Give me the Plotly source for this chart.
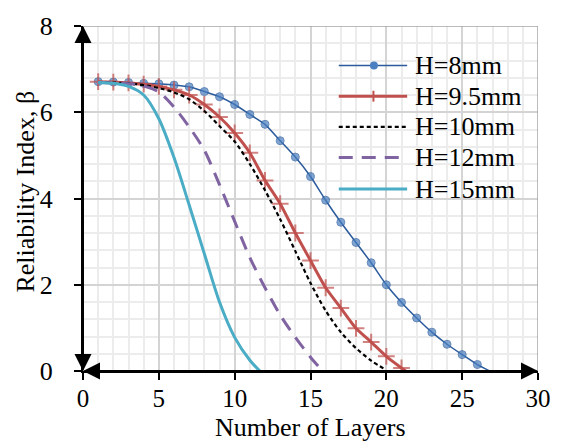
import plotly.graph_objects as go

# Reliability index vs. number of layers for different layer thicknesses H
layers_8 = list(range(1, 28))
beta_8 = [6.71, 6.70, 6.69, 6.67, 6.66, 6.63, 6.59, 6.48, 6.36, 6.18, 5.95, 5.72, 5.34, 4.96,
          4.51, 3.96, 3.45, 2.98, 2.51, 2.00, 1.59, 1.23, 0.90, 0.62, 0.38, 0.15, -0.03]

layers_95 = list(range(1, 23))
beta_95 = [6.71, 6.70, 6.68, 6.65, 6.60, 6.52, 6.40, 6.18, 5.89, 5.52, 5.06, 4.42, 3.88, 3.20,
           2.56, 1.93, 1.46, 0.99, 0.67, 0.34, 0.07, -0.18]

layers_10 = list(range(1, 21))
beta_10 = [6.70, 6.69, 6.67, 6.63, 6.56, 6.46, 6.30, 6.03, 5.68, 5.32, 4.80, 4.19, 3.52, 2.78,
           2.04, 1.40, 0.90, 0.53, 0.24, 0.02]

layers_12 = list(range(1, 17))
beta_12 = [6.69, 6.68, 6.66, 6.61, 6.47, 6.12, 5.66, 5.12, 4.32, 3.47, 2.63, 1.93, 1.30, 0.78,
           0.32, -0.08]

layers_15 = list(range(1, 13))
beta_15 = [6.69, 6.67, 6.60, 6.40, 5.85, 4.95, 3.85, 2.72, 1.60, 0.78, 0.25, -0.12]

series_names = ["H=8mm", "H=9.5mm", "H=10mm", "H=12mm", "H=15mm"]
x_ticks = [0, 5, 10, 15, 20, 25, 30]
y_ticks = [0, 2, 4, 6, 8]

BLUE_LINE = "#2b5b9c"
BLUE_MARK = "#4a7fc1"
RED = "#c0504d"
BLACK = "#000000"
PURPLE = "#8064a2"
CYAN = "#4bacc6"
FONT = "Liberation Serif"
FS = 26

fig = go.Figure()

# H=8mm : thin line with round markers (last point sits on the axis, no marker)
fig.add_trace(go.Scatter(
    x=layers_8, y=beta_8, mode="lines+markers", line=dict(color=BLUE_LINE, width=1.5, shape="spline", smoothing=0.6),
    marker=dict(color=BLUE_MARK, size=[8] * (len(beta_8) - 1) + [0]), showlegend=False))
# H=9.5mm : thick line with plus markers
fig.add_trace(go.Scatter(
    x=layers_95, y=beta_95, mode="lines+markers", line=dict(color=RED, width=3, shape="spline", smoothing=0.6),
    marker=dict(symbol="cross-thin", color=RED, size=[12] * (len(beta_95) - 1) + [0],
                line=dict(color=RED, width=2)), showlegend=False))
# H=10mm : black short dashes
fig.add_trace(go.Scatter(
    x=layers_10, y=beta_10, mode="lines", line=dict(color=BLACK, width=2.2, dash="4px,3px", shape="spline", smoothing=0.8),
    showlegend=False))
# H=12mm : purple long dashes
fig.add_trace(go.Scatter(
    x=layers_12, y=beta_12, mode="lines", line=dict(color=PURPLE, width=3, dash="14px,9px", shape="spline", smoothing=0.8),
    showlegend=False))
# H=15mm : cyan solid
fig.add_trace(go.Scatter(
    x=layers_15, y=beta_15, mode="lines", line=dict(color=CYAN, width=3, shape="spline", smoothing=0.8),
    showlegend=False))

# plot-area geometry in pixels (used for the hand-drawn legend)
L, R, T, B = 83, 542, 22, 371
W, H = R - L, B - T


def px_x(p):
    return (p - L) / W


def px_y(p):
    return (B - p) / H


shapes = []
annotations = []

# top and right frame lines
shapes.append(dict(type="line", xref="x", yref="y", x0=0, x1=30, y0=8, y1=8, line=dict(color="#a6a6a6", width=1.5)))
shapes.append(dict(type="line", xref="x", yref="y", x0=30, x1=30, y0=0, y1=8, line=dict(color="#a6a6a6", width=1.5)))

# legend
legend_rows = [62, 93, 124, 155, 187]
styles = [
    dict(color=BLUE_LINE, width=1.5, dash="solid"),
    dict(color=RED, width=3, dash="solid"),
    dict(color=BLACK, width=2.2, dash="4px,3px"),
    dict(color=PURPLE, width=3, dash="14px,9px"),
    dict(color=CYAN, width=3, dash="solid"),
]
for name, row, st in zip(series_names, legend_rows, styles):
    shapes.append(dict(type="line", xref="paper", yref="paper", x0=px_x(341), x1=px_x(410),
                       y0=px_y(row), y1=px_y(row), line=st))
    annotations.append(dict(xref="paper", yref="paper", x=px_x(416), y=px_y(row), text=name,
                            showarrow=False, xanchor="left", yanchor="middle",
                            font=dict(family=FONT, size=FS, color="black")))
# legend marker samples
shapes.append(dict(type="circle", xref="paper", yref="paper", x0=px_x(372.5), x1=px_x(380.5),
                   y0=px_y(legend_rows[0] + 4), y1=px_y(legend_rows[0] - 4),
                   fillcolor=BLUE_MARK, line=dict(width=0)))
shapes.append(dict(type="line", xref="paper", yref="paper", x0=px_x(376), x1=px_x(376),
                   y0=px_y(legend_rows[1] - 5.5), y1=px_y(legend_rows[1] + 5.5), line=dict(color=RED, width=2)))

# double-headed axis arrows
arrow = dict(showarrow=True, arrowhead=2, arrowsize=1.7, arrowwidth=2, arrowcolor="black",
             axref="x", ayref="y", xref="x", yref="y", text="", standoff=0, startstandoff=0)
annotations.append(dict(arrow, x=0, y=8, ax=0, ay=0))
annotations.append(dict(arrow, x=0, y=0, ax=0, ay=8))
annotations.append(dict(arrow, x=30, y=0, ax=0, ay=0))
annotations.append(dict(arrow, x=0, y=0, ax=30, ay=0))

# axis titles
annotations.append(dict(xref="paper", yref="paper", x=0.5, y=px_y(428), text="Number of Layers",
                        showarrow=False, xanchor="center", yanchor="middle",
                        font=dict(family=FONT, size=FS, color="black")))
annotations.append(dict(xref="paper", yref="paper", x=px_x(25), y=px_y(190), text="Reliability Index, β",
                        showarrow=False, xanchor="center", yanchor="middle", textangle=-90,
                        font=dict(family=FONT, size=FS, color="black")))

fig.update_layout(
    width=563, height=443,
    margin=dict(l=L, r=563 - R, t=T, b=443 - B),
    paper_bgcolor="white", plot_bgcolor="white",
    font=dict(family=FONT, size=FS, color="black"),
    shapes=shapes, annotations=annotations,
    showlegend=False,
)
fig.update_xaxes(
    range=[0, 30], tickvals=x_ticks, ticktext=[str(v) for v in x_ticks],
    tickfont=dict(family=FONT, size=25, color="black"),
    ticklabelstandoff=-3,
    showgrid=True, gridcolor="#d4d4d4", gridwidth=1.5,
    minor=dict(dtick=1, showgrid=True, gridcolor="#ececec", gridwidth=1.5),
    showline=True, linecolor="black", linewidth=2,
    ticks="outside", ticklen=7, tickwidth=1.5, tickcolor="black",
    zeroline=False, fixedrange=True,
)
fig.update_yaxes(
    range=[0, 8], tickvals=y_ticks, ticktext=[str(v) for v in y_ticks],
    tickfont=dict(family=FONT, size=FS, color="black"),
    showgrid=True, gridcolor="#d4d4d4", gridwidth=1.5,
    minor=dict(dtick=0.4, showgrid=True, gridcolor="#ececec", gridwidth=1.5),
    showline=True, linecolor="black", linewidth=2,
    ticks="outside", ticklen=7, tickwidth=1.5, tickcolor="black",
    ticklabelstandoff=16,
    zeroline=False, fixedrange=True,
)

fig.write_html("out.html")
